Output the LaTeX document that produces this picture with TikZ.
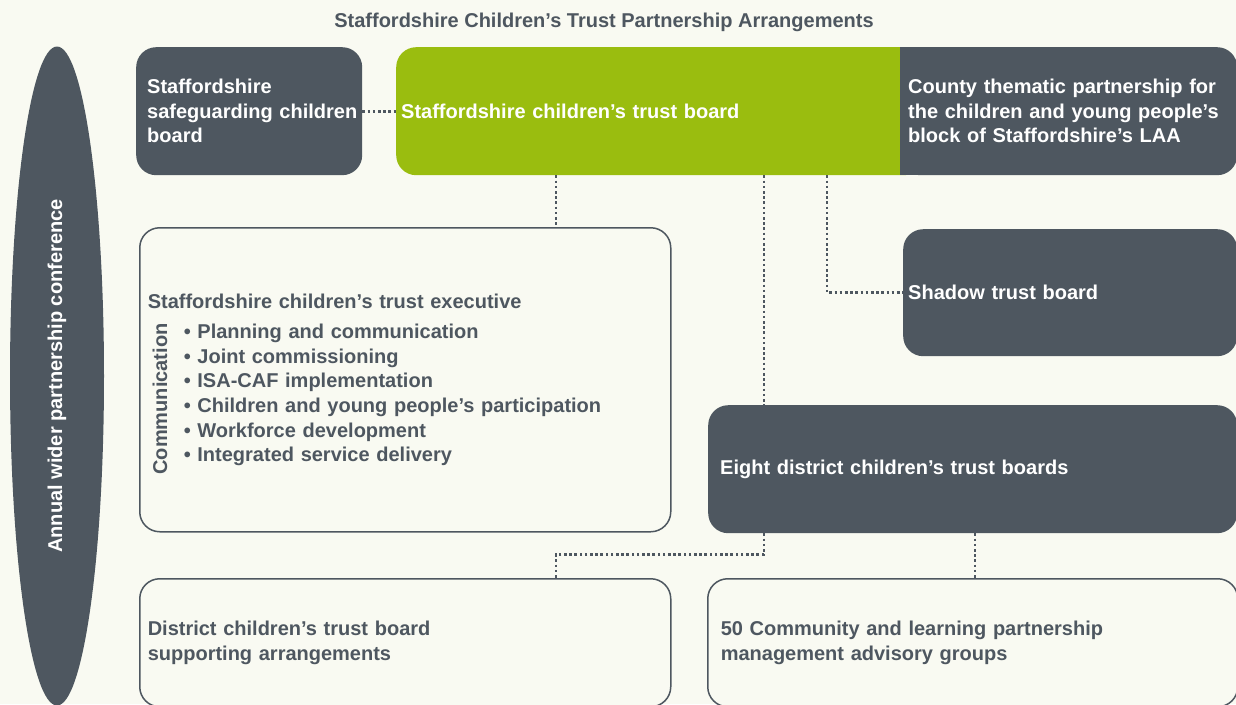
\documentclass[tikz,border=0pt]{standalone}
\usepackage{fontspec}
\setmainfont{Liberation Sans}
\usetikzlibrary{shapes.geometric}

\definecolor{slate}{HTML}{4E5760}
\definecolor{leaf}{HTML}{9ABD0F}
\definecolor{paper}{HTML}{F9FAF2}

\hyphenpenalty=10000

\tikzset{
  panel/.style={rounded corners=20pt, anchor=north west, align=left, inner ysep=0pt},
  darkpanel/.style={panel, fill=slate, text=white},
  lightpanel/.style={panel, draw=slate, line width=1.5pt, fill=paper, text=slate},
  link/.style={slate, line width=2.6pt, dash pattern=on 2.6pt off 2.6pt},
}

\begin{document}
\begin{tikzpicture}[x=1pt, y=-1pt,
                    font=\fontsize{20}{24.6}\selectfont\bfseries]

\useasboundingbox (0,0) rectangle (1236,704);
\clip (0,0) rectangle (1236,704);
\fill[paper] (0,0) rectangle (1236,704);

% title
\node[text=slate] (title) at (604,22) {Staffordshire Children’s Trust Partnership Arrangements};

% conference
\node[ellipse, rotate=90, fill=slate, text=white, inner sep=0pt,
      minimum width=659pt, minimum height=94pt] (conf) at (57,376) {Annual wider partnership conference};

% top row
\node[darkpanel, minimum height=128pt, text width=204pt, inner xsep=11pt] (sscb) at (136,47) {Staffordshire\\safeguarding~children\\board};

\node[panel, fill=leaf, text=white, minimum height=128pt, text width=518pt, inner xsep=5pt] (trust) at (396,47) {Staffordshire children’s trust board};

\fill[slate] (900,47) rectangle (924,175);
\node[darkpanel, minimum height=128pt, text width=321pt, inner xsep=8pt] (county) at (900,47) {County thematic partnership for\\the children and young people’s\\block of Staffordshire’s LAA};

% middle
\node[darkpanel, minimum height=127pt, text width=324pt, inner xsep=5pt] (shadow) at (903,229) {Shadow trust board};

\node[lightpanel, minimum height=304pt, text width=515pt, inner xsep=8pt] (exec) at (139,227) {Staffordshire children’s trust executive\\[6pt]
  \hspace*{36pt}• Planning and communication\\
  \hspace*{36pt}• Joint commissioning\\
  \hspace*{36pt}• ISA-CAF implementation\\
  \hspace*{36pt}• Children and young people’s participation\\
  \hspace*{36pt}• Workforce development\\
  \hspace*{36pt}• Integrated service delivery};
\node[rotate=90, text=slate, inner sep=0pt] (comm) at (160,399) {Communication};

\node[darkpanel, minimum height=128pt, text width=505pt, inner xsep=12pt] (eight) at (708,405) {Eight district children’s trust boards};

% bottom row
\node[lightpanel, minimum height=128pt, text width=515pt, inner xsep=8pt] (district) at (139,578) {District children’s trust board\\supporting arrangements};

\node[lightpanel, minimum height=128pt, text width=504pt, inner xsep=13pt] (groups) at (707,578) {50 Community and learning partnership\\management advisory groups};

% links
\coordinate (c1) at (556,0);
\coordinate (c2) at (764,0);
\coordinate (c3) at (827,0);
\coordinate (c4) at (975,0);

\draw[link] (sscb) -- (trust);
\draw[link] (trust.south -| c1) -- (exec.north -| c1);
\draw[link] (trust.south -| c2) -- (eight.north -| c2);
\draw[link] (trust.south -| c3) |- (shadow.west);
\draw[link] (eight.south -| c2) -- ++(0,21) -| (district.north -| c1);
\draw[link] (eight.south -| c4) -- (groups.north -| c4);

\end{tikzpicture}
\end{document}
